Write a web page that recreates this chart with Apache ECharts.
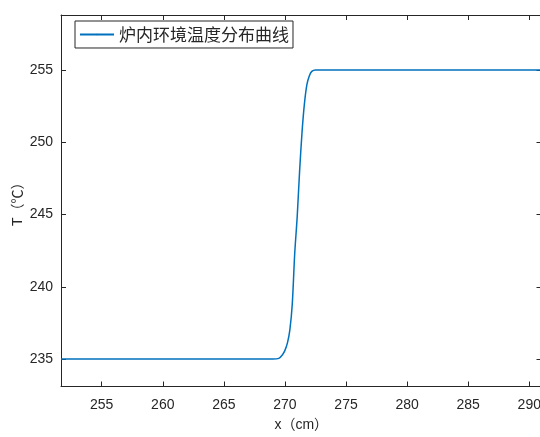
<!DOCTYPE html>
<html>
<head>
<meta charset="utf-8">
<script src="https://cdn.jsdelivr.net/npm/echarts@6/dist/echarts.min.js"></script>
<style>
html,body{margin:0;padding:0;background:#fff;overflow:hidden;}
#c{width:540px;height:437px;}
</style>
</head>
<body>
<div id="c"></div>
<script>
var seriesName = '炉内环境温度分布曲线';
var xValues = [251.67, 269.0, 269.5, 269.8, 270.0, 270.2, 270.4, 270.6, 270.8, 271.0, 271.2, 271.4, 271.6, 271.8, 272.0, 272.2, 272.5, 273.0, 291.0];
var tValues = [235.0, 235.0, 235.05, 235.3, 235.6, 236.1, 237.0, 238.8, 242.3, 244.8, 248.0, 250.7, 252.7, 254.0, 254.6, 254.9, 255.0, 255.0, 255.0];
var xRange = [251.67, 291.0];
var yRange = [233.1, 258.8];
var xTitle = 'x（cm）';
var yTitle = 'T（℃）';

var data = xValues.map(function (x, i) { return [x, tValues[i]]; });
var axisColor = '#262626';
var labelFont = { color: '#262626', fontSize: 14, fontFamily: 'Liberation Sans, Arial, sans-serif' };

var chart = echarts.init(document.getElementById('c'), null, { renderer: 'canvas' });
chart.setOption({
  animation: false,
  backgroundColor: '#ffffff',
  grid: { left: 61, top: 15, width: 480.5, height: 371.5, containLabel: false, outerBoundsMode: 'none' },
  legend: {
    left: 75, top: 21,
    data: [seriesName],
    itemWidth: 34, itemHeight: 2, itemGap: 4,
    padding: [5, 4, 5, 4],
    borderColor: '#262626', borderWidth: 1, borderRadius: 0,
    backgroundColor: '#fff',
    textStyle: { color: '#262626', fontSize: 17, fontFamily: 'Noto Sans CJK SC' }
  },
  xAxis: [{
    type: 'value', position: 'bottom',
    min: xRange[0], max: xRange[1], splitNumber: 8,
    name: xTitle, nameLocation: 'middle', nameGap: 32, nameMoveOverlap: false,
    nameTextStyle: { color: '#262626', fontSize: 14, fontFamily: 'Liberation Sans, Noto Sans CJK SC, sans-serif' },
    axisLine: { show: true, lineStyle: { color: axisColor, width: 1 } },
    axisTick: { show: true, inside: true, length: 5, lineStyle: { color: axisColor } },
    axisLabel: Object.assign({ margin: 12, showMinLabel: false, showMaxLabel: false }, labelFont),
    splitLine: { show: false }
  }, {
    type: 'value', position: 'top',
    min: xRange[0], max: xRange[1], splitNumber: 8,
    axisLine: { show: true, lineStyle: { color: axisColor, width: 1 } },
    axisTick: { show: true, inside: true, length: 5, lineStyle: { color: axisColor } },
    axisLabel: { show: false },
    splitLine: { show: false }
  }],
  yAxis: [{
    type: 'value', position: 'left',
    min: yRange[0], max: yRange[1], splitNumber: 5,
    name: yTitle, nameLocation: 'middle', nameGap: 36, nameRotate: 90, nameMoveOverlap: false,
    nameTextStyle: { color: '#262626', fontSize: 14, fontFamily: 'Liberation Sans, Noto Sans CJK SC, sans-serif' },
    axisLine: { show: true, lineStyle: { color: axisColor, width: 1 } },
    axisTick: { show: true, inside: true, length: 5, lineStyle: { color: axisColor } },
    axisLabel: Object.assign({ margin: 8, showMinLabel: false, showMaxLabel: false }, labelFont),
    splitLine: { show: false }
  }, {
    type: 'value', position: 'right',
    min: yRange[0], max: yRange[1], splitNumber: 5,
    axisLine: { show: true, lineStyle: { color: axisColor, width: 1 } },
    axisTick: { show: true, inside: true, length: 5, lineStyle: { color: axisColor } },
    axisLabel: { show: false },
    splitLine: { show: false }
  }],
  series: [{
    name: seriesName,
    type: 'line',
    xAxisIndex: 0, yAxisIndex: 0,
    data: data,
    smooth: 0.3,
    symbol: 'none',
    lineStyle: { color: '#0072BD', width: 1.5 },
    itemStyle: { color: '#0072BD' }
  }]
});
</script>
</body>
</html>
